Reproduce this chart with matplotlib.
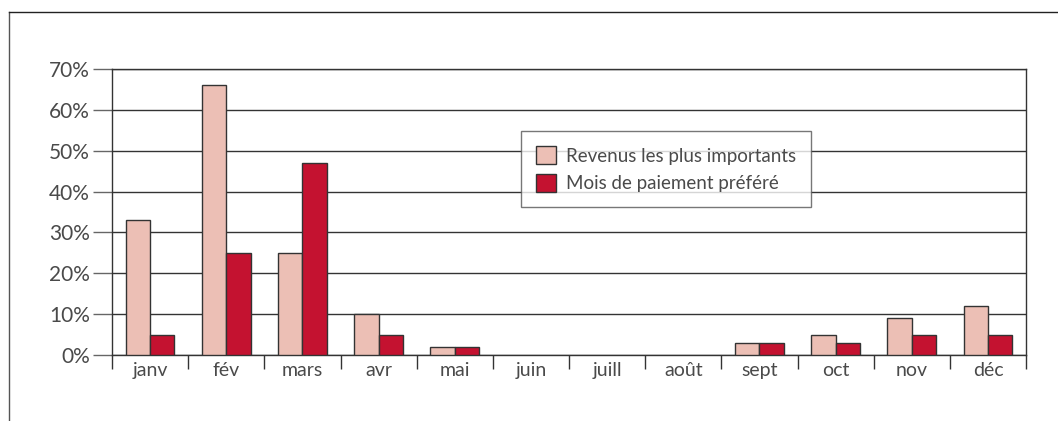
import numpy as np
import matplotlib
matplotlib.use('Agg')
import matplotlib.pyplot as plt
from matplotlib.lines import Line2D
from matplotlib.patches import Patch

plt.rcParams['font.family'] = ['Lato', 'DejaVu Sans']

mois = ['janv', 'fév', 'mars', 'avr', 'mai', 'juin', 'juill', 'août',
        'sept', 'oct', 'nov', 'déc']
revenus = [33, 66, 25, 10, 2, 0, 0, 0, 3, 5, 9, 12]
paiement = [5, 25, 47, 5, 2, 0, 0, 0, 3, 3, 5, 5]
yticks = [0, 10, 20, 30, 40, 50, 60, 70]

rose = '#ecbfb5'
rouge = '#c41230'
gris = '#333333'
texte = '#4a4a4a'

fig = plt.figure(figsize=(10.58, 4.21), dpi=100)
ax = fig.add_axes([0.1059, 0.1568, 0.8639, 0.6793])

x = np.arange(len(mois))
w = 0.32
for v, col, dx in [(revenus, rose, -w / 2), (paiement, rouge, w / 2)]:
    hauteurs = np.array(v, dtype=float)
    mask = hauteurs > 0
    ax.bar(x[mask] + dx, hauteurs[mask], width=w, color=col,
           edgecolor=gris, linewidth=1, zorder=3)

ax.set_xlim(-0.5, len(mois) - 0.5)
ax.set_ylim(0, 70)
ax.set_yticks(yticks)
ax.set_yticklabels([f'{t}%' for t in yticks], fontsize=15, color=texte)
ax.yaxis.grid(True, color=gris, linewidth=1, zorder=0)
ax.tick_params(axis='y', length=14, width=1, color='#666666', pad=2)

ax.set_xticks(x)
ax.set_xticklabels(mois, fontsize=14, color=texte)
ax.set_xticks(np.arange(len(mois) + 1) - 0.5, minor=True)
ax.tick_params(axis='x', which='major', length=0, pad=5)
ax.tick_params(axis='x', which='minor', length=10, width=1, color=gris)

for s in ax.spines.values():
    s.set_color(gris)
    s.set_linewidth(1)

leg = ax.legend(handles=[Patch(facecolor=rose, edgecolor=gris, label='Revenus les plus importants'),
                         Patch(facecolor=rouge, edgecolor=gris, label='Mois de paiement préféré')],
                loc='upper left', bbox_to_anchor=(0.437, 0.815), fontsize=13.5,
                frameon=True, fancybox=False, edgecolor='#555555',
                handlelength=1.1, handleheight=1.1, borderpad=0.8,
                labelspacing=0.5, handletextpad=0.5, labelcolor=texte)
leg.get_frame().set_linewidth(1)
leg.set_zorder(5)

# cadre autour de la figure
fig.add_artist(Line2D([0.0085, 0.0085], [0, 0.9715], color='#555555', linewidth=1))
fig.add_artist(Line2D([0.0085, 1], [0.9715, 0.9715], color='#222222', linewidth=1))

fig.savefig('out.png', dpi=100)
